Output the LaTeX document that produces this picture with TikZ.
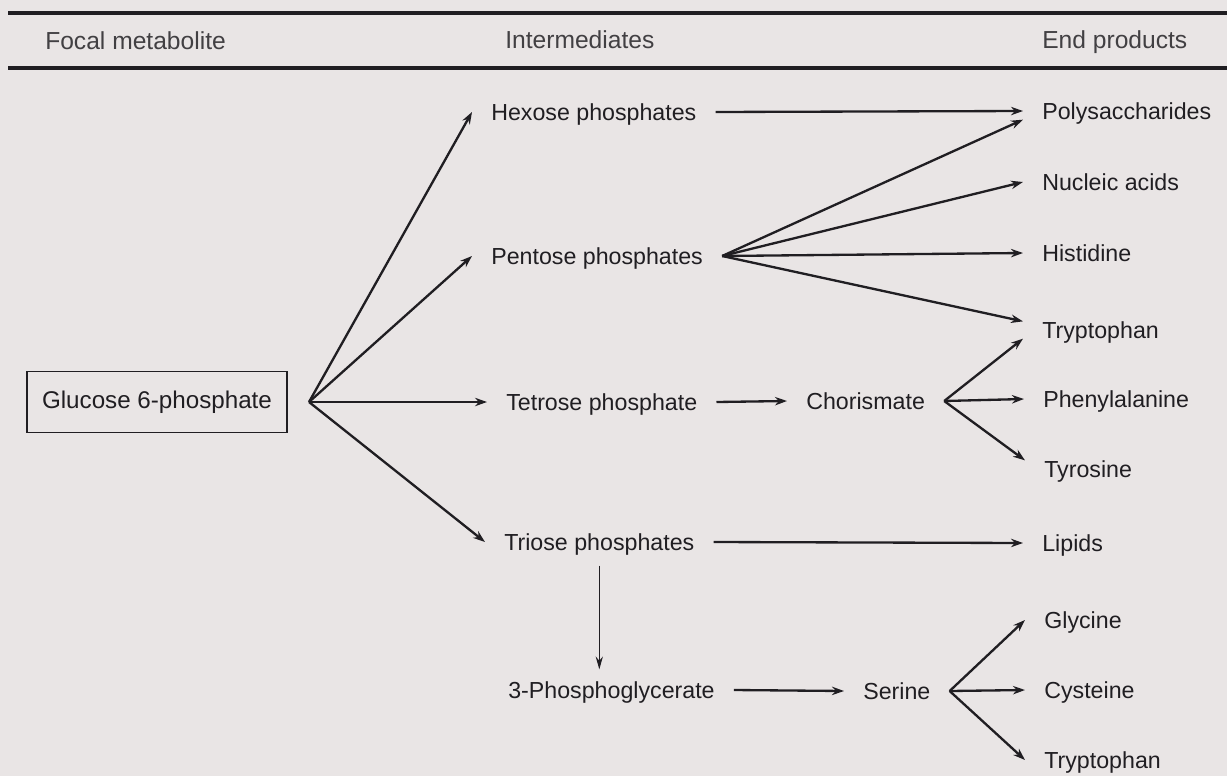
\documentclass[tikz,border=0pt]{standalone}
\usepackage{fontspec}
\setmainfont{Liberation Sans}
\usepackage{tikz}
\usetikzlibrary{arrows.meta, positioning}
\definecolor{PaperGrey}{RGB}{233,229,229}
\definecolor{InkGrey}{RGB}{32,30,34}

\begin{document}
\begin{tikzpicture}[
    x=0.025cm, y=-0.025cm,
    metab/.style={anchor=west, inner xsep=0.475cm, inner ysep=0pt, text height=11.9pt, text depth=0pt, font=\fontsize{16.5}{19}\selectfont, text=InkGrey},
    focalbox/.style={draw=InkGrey, line width=1.4pt, minimum width=6.5cm, minimum height=1.525cm, inner sep=0pt, font=\fontsize{17.2}{20}\selectfont, text=InkGrey},
    hdr/.style={anchor=base west, inner sep=0pt, font=\fontsize{17.5}{20}\selectfont, text=InkGrey!85},
    rule/.style={line width=2.2pt, InkGrey},
    arr/.style={-{Stealth[length=3mm, width=2.1mm]}, line width=1.65pt, InkGrey},
    thinarr/.style={-{Stealth[length=3.2mm, width=1.8mm]}, line width=0.8pt, InkGrey},
]

% --- Page ---
\fill[PaperGrey] (0,0) rectangle (1227,776);
\useasboundingbox (0,0) rectangle (1227,776);

% --- Column heads between two rules ---
\draw[rule] (8,13) -- (1227,13);
\draw[rule] (8,68) -- (1227,68);
\node[hdr] (focalhd) at (45,49)   {Focal metabolite};
\node[hdr] (interhd) at (505,48)  {Intermediates};
\node[hdr] (endhd)   at (1042,48) {End products};

% --- Focal metabolite ---
\node[focalbox] (glc) at (157,402) {Glucose 6-phosphate};
\coordinate[right=0.525cm of glc] (gfan);

% --- Intermediates ---
\node[metab] (hexose)  at (472,112) {Hexose phosphates};
\node[metab] (pentose) at (472,256) {Pentose phosphates};
\node[metab] (tetrose) at (487,402) {Tetrose phosphate};
\node[metab] (triose)  at (485,542) {Triose phosphates};
\node[metab] (pga)     at (489,690) {3-Phosphoglycerate};
\node[metab] (chor)    at (787,401) {Chorismate};
\node[metab] (serine)  at (844,691) {Serine};

% --- End products ---
\node[metab] (poly) at (1023,111) {Polysaccharides};
\node[metab] (nucl) at (1023,182) {Nucleic acids};
\node[metab] (his)  at (1023,253) {Histidine};
\node[metab] (trpa) at (1023,330) {Tryptophan};
\node[metab] (phe)  at (1024,399) {Phenylalanine};
\node[metab] (tyr)  at (1025,469) {Tyrosine};
\node[metab] (lip)  at (1023,543) {Lipids};
\node[metab] (gly)  at (1025,620) {Glycine};
\node[metab] (cys)  at (1025,690) {Cysteine};
\node[metab] (trpb) at (1025,760) {Tryptophan};

% --- Glucose 6-phosphate fan ---
\draw[arr] (gfan) -- (hexose.west);
\draw[arr] (gfan) -- (pentose.west);
\draw[arr] (gfan) -- (tetrose.west);
\draw[arr] (gfan) -- (triose.west);

% --- Sugar phosphates to end products ---
\draw[arr] (hexose.east)  -- (poly.west);
\draw[arr] (pentose.east) -- (poly.south west);
\draw[arr] (pentose.east) -- (nucl.west);
\draw[arr] (pentose.east) -- (his.west);
\draw[arr] (pentose.east) -- (trpa.north west);

% --- Aromatic branch ---
\draw[arr] (tetrose.east) -- (chor.west);
\draw[arr] (chor.east) -- (trpa.south west);
\draw[arr] (chor.east) -- (phe.west);
\draw[arr] (chor.east) -- (tyr.north west);

% --- Triose branch ---
\draw[arr] (triose.east) -- (lip.west);
\draw[thinarr, shorten <=0.375cm, shorten >=0.3cm] (triose.south) -- (triose.south |- pga.north);
\draw[arr] (pga.east) -- (serine.west);
\draw[arr] (serine.east) -- (gly.west);
\draw[arr] (serine.east) -- (cys.west);
\draw[arr] (serine.east) -- (trpb.west);

\end{tikzpicture}
\end{document}
